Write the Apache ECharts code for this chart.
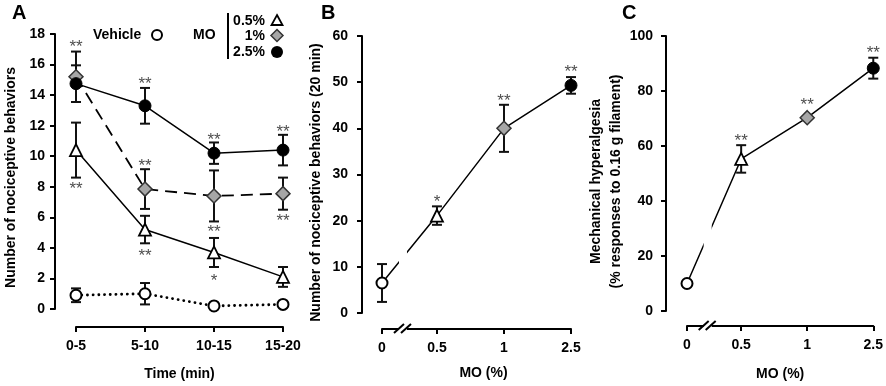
<!DOCTYPE html>
<html><head><meta charset="utf-8">
<script src="https://cdn.jsdelivr.net/npm/echarts@6/dist/echarts.min.js"></script>
<style>html,body{margin:0;padding:0;background:#fff}#c{width:886px;height:386px}</style>
</head><body><div id="c"></div>
<script>
// ---------- DATA ----------
// Panel A
const timeCats = ['0-5', '5-10', '10-15', '15-20'];
const vehMean  = [0.9, 1.0, 0.2, 0.3];
const vehSem   = [0.45, 0.7, 0, 0.1];
const mo05Mean = [10.4, 5.2, 3.7, 2.1];
const mo05Sem  = [1.8, 0.9, 0.95, 0.65];
const mo1Mean  = [15.2, 7.85, 7.4, 7.55];
const mo1Sem   = [1.65, 1.3, 1.67, 1.05];
const mo25Mean = [14.75, 13.3, 10.2, 10.4];
const mo25Sem  = [1.2, 1.17, 0.7, 1.0];
const starsA = [
  ['0-5', 17.4, '**'], ['0-5', 8.1, '**'],
  ['5-10', 15.0, '**'], ['5-10', 9.6, '**'], ['5-10', 3.7, '**'],
  ['10-15', 11.3, '**'], ['10-15', 5.3, '**'], ['10-15', 2.1, '*'],
  ['15-20', 11.8, '**'], ['15-20', 6.0, '**']
];
// Panels B and C
const doseCats = ['0', '0.5', '1', '2.5'];
const bMean = [6.5, 21.1, 40.0, 49.3];
const bSem  = [4.1, 2.0, 5.1, 1.8];
const starsB = [['0.5', 24.9, '*'], ['1', 46.8, '**'], ['2.5', 53.1, '**']];
const cMean = [10, 55.3, 70.3, 88.3];
const cSem  = [0, 5, 0, 3.8];
const starsC = [['0.5', 63.2, '**'], ['1', 76.2, '**'], ['2.5', 95, '**']];
const legendLabels = ['Vehicle', 'MO', '0.5%', '1%', '2.5%'];

// ---------- LAYOUT / STYLE ----------
const FONT = "'Liberation Sans', Arial, Helvetica, sans-serif";
const txt = {fontFamily: FONT, fontWeight: 'bold', fontSize: 14, color: '#000'};
const SLOT = {'0': 0.18, '0.5': 1, '1': 2, '2.5': 3};   // broken dose axis positions
const slotVals = doseCats.map(c => SLOT[c]);
const BREAK = 0.493;
const doseStyle = [
  {symbol: 'circle', symbolSize: 11, itemStyle: {color: '#fff', borderColor: '#000', borderWidth: 2}},
  {symbol: 'triangle', symbolSize: 12, itemStyle: {color: '#fff', borderColor: '#000', borderWidth: 1.8}},
  {symbol: 'diamond', symbolSize: 14, itemStyle: {color: '#a6a6a6', borderColor: '#333', borderWidth: 1.5}},
  {symbol: 'circle', symbolSize: 12, itemStyle: {color: '#000', borderColor: '#000', borderWidth: 1}}
];

function yAx(gi, max, interval, name, nameGap, offset, margin, shift) {
  return {type: 'value', gridIndex: gi, min: 0, max: max, interval: interval, offset: offset, position: 'left',
    axisLine: {show: true, lineStyle: {color: '#000', width: 2}},
    axisTick: {show: true, length: 5, lineStyle: {color: '#000', width: 2}},
    axisLabel: Object.assign({}, txt, {margin: margin}),
    splitLine: {show: false},
    name: name, nameLocation: 'middle', nameGap: nameGap, nameRotate: 90,
    nameTextStyle: Object.assign({}, txt, {lineHeight: 20, padding: [0, shift, 0, 0]})};
}
function doseX(gi, offset, nameGap, namePad) {
  return {type: 'value', gridIndex: gi, min: SLOT['0'], max: SLOT['2.5'], offset: offset, position: 'bottom',
    axisLine: {show: true, onZero: false, lineStyle: {color: '#000', width: 2}},
    axisTick: {show: true, length: 5, customValues: slotVals, lineStyle: {color: '#000', width: 2}},
    axisLabel: Object.assign({}, txt, {margin: 12, customValues: slotVals,
      formatter: v => { let best = 0; slotVals.forEach((s, i) => { if (Math.abs(s - v) < Math.abs(slotVals[best] - v)) best = i; }); return doseCats[best]; }}),
    splitLine: {show: false},
    name: 'MO (%)', nameLocation: 'middle', nameGap: nameGap,
    nameTextStyle: Object.assign({}, txt, {padding: namePad})};
}
function errSeries(xi, data) {
  return {type: 'custom', xAxisIndex: xi, yAxisIndex: xi, z: 1, silent: true,
    renderItem: (params, api) => {
      const x = api.value(0), lo = api.value(1), hi = api.value(2);
      if (hi - lo <= 0) return null;
      const a = api.coord([x, lo]), b = api.coord([x, hi]);
      const w = 5, st = {stroke: '#111', lineWidth: 2};
      return {type: 'group', children: [
        {type: 'line', shape: {x1: a[0], y1: a[1], x2: b[0], y2: b[1]}, style: st},
        {type: 'line', shape: {x1: a[0] - w, y1: a[1], x2: a[0] + w, y2: a[1]}, style: st},
        {type: 'line', shape: {x1: b[0] - w, y1: b[1], x2: b[0] + w, y2: b[1]}, style: st}
      ]};
    },
    data: data};
}
function starSeries(xi, data) {
  return {type: 'scatter', xAxisIndex: xi, yAxisIndex: xi, symbolSize: 0, silent: true, z: 5,
    label: {show: true, position: 'inside', offset: [0, 4], formatter: p => p.value[2],
      fontFamily: FONT, fontSize: 17, color: '#1a1a1a'},
    data: data};
}

const seriesA = [
  [vehMean, vehSem, doseStyle[0], {type: [0.1, 5.6], width: 2.8, color: '#000', cap: 'round'}],
  [mo05Mean, mo05Sem, doseStyle[1], {type: 'solid', width: 1.5, color: '#000'}],
  [mo1Mean, mo1Sem, doseStyle[2], {type: [12, 7], width: 1.8, color: '#000'}],
  [mo25Mean, mo25Sem, doseStyle[3], {type: 'solid', width: 1.5, color: '#000'}]
];
const series = [];
seriesA.forEach(([m, s, st]) => series.push(errSeries(0, m.map((v, i) => [i, v - s[i], v + s[i]]))));
seriesA.forEach(([m, s, st, ls]) => series.push({type: 'line', xAxisIndex: 0, yAxisIndex: 0, z: 3,
  data: m, symbol: st.symbol, symbolSize: st.symbolSize, itemStyle: st.itemStyle, lineStyle: ls, silent: true}));
series.push(starSeries(0, starsA));

[[1, bMean, bSem, starsB], [2, cMean, cSem, starsC]].forEach(([gi, m, s, stars]) => {
  series.push(errSeries(gi, m.map((v, i) => [SLOT[doseCats[i]], v - s[i], v + s[i]])));
  series.push({type: 'line', xAxisIndex: gi, yAxisIndex: gi, z: 3, silent: true,
    lineStyle: {color: '#000', width: 1.5},
    data: m.map((v, i) => ({value: [SLOT[doseCats[i]], v], symbol: doseStyle[i].symbol,
      symbolSize: doseStyle[i].symbolSize, itemStyle: doseStyle[i].itemStyle}))});
  series.push(starSeries(gi, stars.map(d => [SLOT[d[0]], d[1], d[2]])));
});

const chart = echarts.init(document.getElementById('c'), null, {renderer: 'canvas'});
chart.setOption({
  animation: false,
  backgroundColor: '#fff',
  grid: [
    {left: 76, top: 34, width: 207, height: 279},
    {left: 382, top: 36, width: 189, height: 277},
    {left: 687, top: 36, width: 188, height: 277}
  ],
  xAxis: [
    {type: 'category', gridIndex: 0, data: timeCats, boundaryGap: false, offset: 18,
      axisLine: {show: true, onZero: false, lineStyle: {color: '#000', width: 2}},
      axisTick: {show: true, length: 5, interval: 0, lineStyle: {color: '#000', width: 2}},
      axisLabel: Object.assign({}, txt, {margin: 12, interval: 0}),
      name: 'Time (min)', nameLocation: 'middle', nameGap: 40, nameTextStyle: txt},
    doseX(1, 16, 37, [0, 0, 0, 14]),
    doseX(2, 15, 41, 0)
  ],
  yAxis: [
    yAx(0, 18, 2, 'Number of nociceptive behaviors', 34, 21, 10, 12),
    yAx(1, 60, 10, 'Number of nociceptive behaviors (20 min)', 36, 20, 14, 16),
    yAx(2, 100, 20, 'Mechanical hyperalgesia\n(% responses to 0.16 g filament)', 28, 21, 13, 16)
  ],
  series: series
});

// decorations: legend, panel letters, axis breaks
const g = [];
const font = 'bold 14px ' + FONT;
function t(x, y, text, align, f) {
  g.push({type: 'text', z: 100, style: {x: x, y: y, text: text, align: align, verticalAlign: 'middle', font: f || font, fill: '#000'}});
}
t(93, 35, legendLabels[0], 'left');
g.push({type: 'circle', z: 100, shape: {cx: 157, cy: 35, r: 5}, style: {fill: '#fff', stroke: '#000', lineWidth: 2}});
t(193, 35, legendLabels[1], 'left');
g.push({type: 'line', z: 100, shape: {x1: 228, y1: 13, x2: 228, y2: 59}, style: {stroke: '#000', lineWidth: 2}});
t(265, 21, legendLabels[2], 'right');
t(265, 36, legendLabels[3], 'right');
t(265, 52, legendLabels[4], 'right');
g.push({type: 'polygon', z: 100, shape: {points: [[277, 15], [282.5, 25], [271.5, 25]]}, style: {fill: '#fff', stroke: '#000', lineWidth: 1.8}});
g.push({type: 'polygon', z: 100, shape: {points: [[277, 29.5], [283, 35.5], [277, 41.5], [271, 35.5]]}, style: {fill: '#a6a6a6', stroke: '#333', lineWidth: 1.5}});
g.push({type: 'circle', z: 100, shape: {cx: 277, cy: 52, r: 6}, style: {fill: '#000'}});
t(12, 13, 'A', 'left', 'bold 20px ' + FONT);
t(321, 13, 'B', 'left', 'bold 20px ' + FONT);
t(622, 13, 'C', 'left', 'bold 20px ' + FONT);

[[1, 16], [2, 15]].forEach(([gi, off]) => {
  const p = chart.convertToPixel({gridIndex: gi}, [BREAK, 0]);
  const top = chart.convertToPixel({gridIndex: gi}, [BREAK, gi === 1 ? 60 : 100]);
  const cx = p[0], ay = p[1] + off;
  g.push({type: 'rect', z: 99, shape: {x: cx - 4, y: top[1], width: 8, height: ay - top[1] + 3}, style: {fill: '#fff'}});
  const st = {stroke: '#000', lineWidth: 2};
  g.push({type: 'line', z: 100, shape: {x1: cx - 9, y1: ay + 4, x2: cx + 1, y2: ay - 5}, style: st});
  g.push({type: 'line', z: 100, shape: {x1: cx - 2, y1: ay + 4, x2: cx + 8, y2: ay - 5}, style: st});
});
chart.setOption({graphic: g});
</script>
</body></html>
